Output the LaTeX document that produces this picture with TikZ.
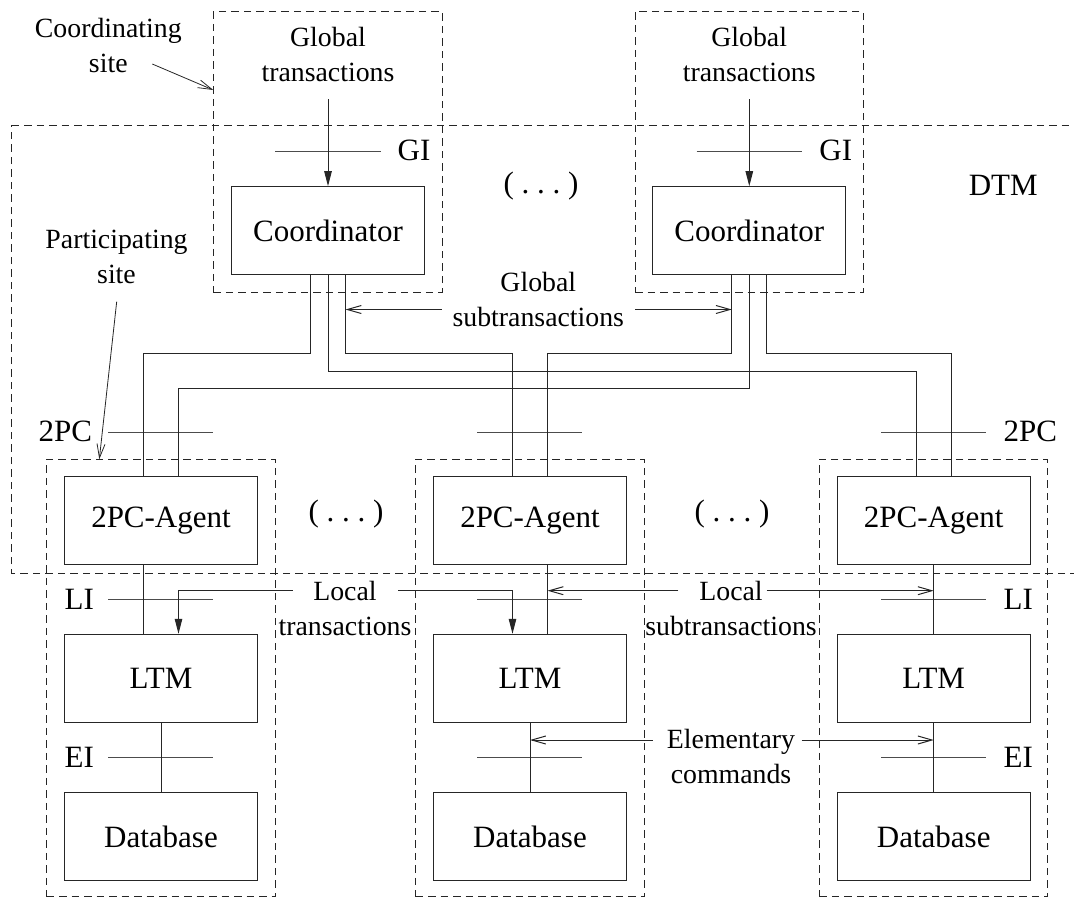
\documentclass[tikz,border=0pt]{standalone}
\usepackage{fontspec}
\setmainfont{Liberation Serif}
\usetikzlibrary{arrows.meta}
\newcommand\etcdots{(\hspace{0.25em}.\hspace{0.25em}.\hspace{0.25em}.\hspace{0.25em})}
\begin{document}
\begin{tikzpicture}[x=1pt,y=-1pt,
  lbl/.style={font=\fontsize{31}{36}\selectfont, inner sep=0pt},
  note/.style={font=\fontsize{27.8}{35}\selectfont, align=center, inner sep=0pt},
  unit/.style={draw=black!85, line width=1pt, minimum width=193pt, minimum height=88pt,
               inner sep=0pt, font=\fontsize{31}{36}\selectfont},
  site/.style={draw=black!85, dash pattern=on 7.5pt off 5pt, line width=0.9pt, inner sep=0pt},
  wire/.style={draw=black!85, line width=1pt},
  thinwire/.style={draw=black!85, line width=0.8pt},
  tick/.style={draw=black!70, line width=1pt},
  fillarrow/.style={-{Triangle[length=15pt,width=7.5pt]}},
  openarrow/.style={-{Straight Barb[length=14pt,width=8pt]}}]
\useasboundingbox (0,0) rectangle (1074,898);
\clip (0,0) rectangle (1074,898);

% site frames
\draw[site] (11.7,125.3) -- (1090,125.3);
\draw[site] (1090,573.3) -- (11.7,573.3) -- (11.7,125.3);
\node[site, minimum width=228.7pt, minimum height=280.3pt] (cs1) at (327.7,151.8) {};
\node[site, minimum width=228.3pt, minimum height=280.3pt] (cs2) at (749.2,151.8) {};
\node[site, minimum width=228.3pt, minimum height=437.4pt] (ps1) at (160.8,678) {};
\node[site, minimum width=228.3pt, minimum height=437.4pt] (ps2) at (529.8,678) {};
\node[site, minimum width=228.3pt, minimum height=437.4pt] (ps3) at (933.5,678) {};

% components
\node[unit, minimum width=192.6pt, minimum height=87.6pt] (c1) at (328,230.5) {Coordinator};
\node[unit, minimum width=193.3pt, minimum height=87.6pt] (c2) at (749.3,230.5) {Coordinator};
\node[unit] (a1) at (161,520.5) {2PC-Agent};
\node[unit] (a2) at (530,520.5) {2PC-Agent};
\node[unit] (a3) at (933.7,520.5) {2PC-Agent};
\node[unit, minimum height=88.4pt] (l1) at (161,678.5) {LTM};
\node[unit, minimum height=88.4pt] (l2) at (530,678.5) {LTM};
\node[unit, minimum height=88.4pt] (l3) at (933.7,678.5) {LTM};
\node[unit] (d1) at (161,836.7) {Database};
\node[unit] (d2) at (530,836.7) {Database};
\node[unit] (d3) at (933.7,836.7) {Database};

% captions
\node[note] (cosite) at (108.3,45) {Coordinating\\site};
\node[note] (gt1) at (328,54.6) {Global\\transactions};
\node[note] (gt2) at (749.2,54.6) {Global\\transactions};
\node[note] (pasite) at (116.5,257) {Participating\\site};
\node[note] (gsub) at (538.3,299.7) {Global\\subtransactions};
\node[note] (ltr) at (345,608) {Local\\transactions};
\node[note] (lsub) at (731,608) {Local\\subtransactions};
\node[note] (elem) at (731,756.7) {Elementary\\commands};

\node[lbl] (gi1) at (414,150.8) {GI};
\node[lbl] (gi2) at (835.8,150.8) {GI};
\node[lbl] (dtmlbl) at (1003.3,185.5) {DTM};
\node[lbl] (dots0) at (541,186.5) {\etcdots};
\node[lbl] (pc1) at (65.3,431.7) {2PC};
\node[lbl] (pc2) at (1030.3,431.7) {2PC};
\node[lbl] (dots1) at (346,514) {\etcdots};
\node[lbl] (dots2) at (732,514) {\etcdots};
\node[lbl] (li1) at (79.2,599.2) {LI};
\node[lbl] (li2) at (1018.3,599.2) {LI};
\node[lbl] (ei1) at (79.2,757.5) {EI};
\node[lbl] (ei2) at (1018.3,757.5) {EI};

% interface ticks
\foreach \y in {432.7,599.3,757.7} {
  \draw[tick] (108.3,\y) -- (213.3,\y);
  \draw[tick] (477.3,\y) -- (582.3,\y);
  \draw[tick] (881,\y) -- (986,\y);
}
\draw[tick] (275,151.7) -- (380.7,151.7);
\draw[tick] (696.7,151.7) -- (801.7,151.7);

% attachment points
\coordinate (c1a) at ([xshift=-17.5pt]c1.south);
\coordinate (c1b) at (c1.south);
\coordinate (c1c) at ([xshift=17.5pt]c1.south);
\coordinate (c2a) at ([xshift=-17.5pt]c2.south);
\coordinate (c2b) at (c2.south);
\coordinate (c2c) at ([xshift=17.5pt]c2.south);
\coordinate (a1l) at ([xshift=-17.5pt]a1.north);
\coordinate (a1r) at ([xshift=17.5pt]a1.north);
\coordinate (a2l) at ([xshift=-17.5pt]a2.north);
\coordinate (a2r) at ([xshift=17.5pt]a2.north);
\coordinate (a3l) at ([xshift=-17.5pt]a3.north);
\coordinate (a3r) at ([xshift=17.5pt]a3.north);
\coordinate (a1o) at ([xshift=-17.5pt]a1.south);
\coordinate (a2o) at ([xshift=17.5pt]a2.south);
\coordinate (l1in) at ([xshift=17.5pt]l1.north);
\coordinate (l2in) at ([xshift=-17.5pt]l2.north);
\coordinate (lvA) at (0,353.3);
\coordinate (lvB) at (0,371);
\coordinate (lvC) at (0,388.3);

% coordinator to agent links
\draw[wire] (c1a) -- (c1a |- lvA) -| (a1l);
\draw[wire] (c1b) -- (c1b |- lvB) -| (a3l);
\draw[wire] (c1c) -- (c1c |- lvA) -| (a2l);
\draw[wire] (c2a) -- (c2a |- lvA) -| (a2r);
\draw[wire] (c2b) -- (c2b |- lvC) -| (a1r);
\draw[wire] (c2c) -- (c2c |- lvA) -| (a3r);

% local stacks
\draw[wire] (a1o) -- (a1o |- l1.north);
\draw[wire] (a2o) -- (a2o |- l2.north);
\draw[wire] (a3.south) -- (l3.north);
\draw[wire] (l1.south) -- (d1.north);
\draw[wire] (l2.south) -- (d2.north);
\draw[wire] (l3.south) -- (d3.north);

% transaction flows
\coordinate (gt1tail) at (328,99.3);
\coordinate (gt2tail) at (749.3,99.3);
\draw[wire, fillarrow] (gt1tail) -- (c1.north);
\draw[wire, fillarrow] (gt2tail) -- (c2.north);

\coordinate (gsw) at (441.7,309.5);
\coordinate (gse) at (635,309.5);
\draw[wire, openarrow] (gsw) -- (c1c |- gsw);
\draw[wire, openarrow] (gse) -- (c2a |- gse);

\coordinate (ltw) at (292.7,590.7);
\coordinate (lte) at (398.3,590.7);
\draw[wire, fillarrow] (ltw) -| (l1in);
\draw[wire, fillarrow] (lte) -| (l2in);

\coordinate (lsw) at (678.3,590.7);
\coordinate (lse) at (766.7,590.7);
\draw[wire, openarrow] (lsw) -- (a2o |- lsw);
\draw[wire, openarrow] (lse) -- (a3.south |- lse);

\coordinate (elw) at (652.7,740);
\coordinate (ele) at (801.7,740);
\draw[wire, openarrow] (elw) -- (l2.south |- elw);
\draw[wire, openarrow] (ele) -- (l3.south |- ele);

% site pointers
\coordinate (cotail) at (152.3,64);
\coordinate (cohead) at (213.3,90);
\draw[thinwire, openarrow] (cotail) -- (cohead);
\coordinate (patail) at (116.7,301.7);
\coordinate (pahead) at (99.3,459.3);
\draw[thinwire, openarrow] (patail) -- (pahead);
\end{tikzpicture}
\end{document}
